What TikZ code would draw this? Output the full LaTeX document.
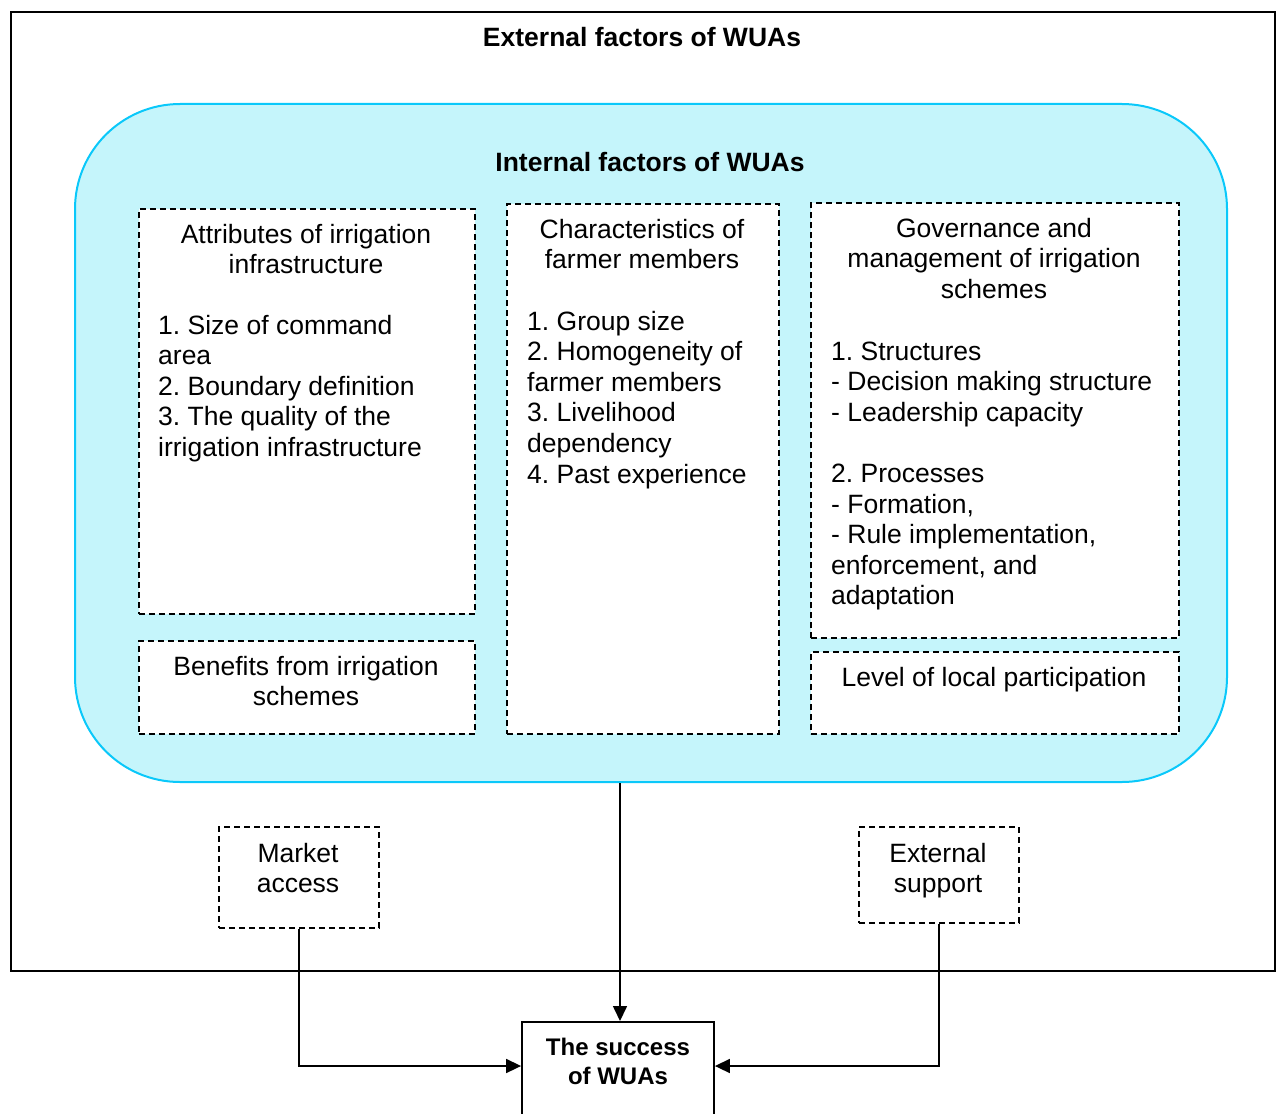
\documentclass[tikz,border=0pt]{standalone}
\usepackage{fontspec}
\setmainfont{Liberation Sans}
\usetikzlibrary{arrows.meta}
\definecolor{infill}{RGB}{197,245,251}
\definecolor{inborder}{RGB}{10,200,250}
\frenchspacing
\begin{document}
\begin{tikzpicture}[x=1pt,y=-1pt,
  txt/.style={inner sep=0pt,font=\fontsize{26.5}{30.6}\selectfont},
  btxt/.style={inner sep=0pt,font=\fontsize{26.5}{29}\selectfont\bfseries},
  dbox/.style={draw,fill=white,line width=1.8pt,dash pattern=on 6pt off 4pt,inner sep=0pt},
  conn/.style={line width=1.6pt,-{Triangle[length=15pt,width=14pt]}}]
\useasboundingbox (0,0) rectangle (1281,1113);
% outer frame: external factors
\node[draw,line width=1.8pt,minimum width=1264,minimum height=959,anchor=north west,inner sep=0pt] (outer) at (10,11) {};
\node[btxt,anchor=base] (exttitle) at (642,47) {External factors of WUAs};
% inner rounded frame: internal factors
\node[draw=inborder,fill=infill,line width=2pt,rounded corners=105pt,minimum width=1152,minimum height=678,anchor=north west,inner sep=0pt] (internal) at (74,103) {};
\node[btxt,anchor=base] (inttitle) at (650,171) {Internal factors of WUAs};
% dashed factor boxes
\node[dbox,minimum width=336,minimum height=405,anchor=north west] (attr) at (138,208) {};
\node[dbox,minimum width=336,minimum height=93,anchor=north west] (benef) at (138,640) {};
\node[dbox,minimum width=272,minimum height=530,anchor=north west] (farm) at (506,203) {};
\node[dbox,minimum width=368,minimum height=435,anchor=north west] (gov) at (810,202) {};
\node[dbox,minimum width=368,minimum height=82,anchor=north west] (part) at (810,651) {};
% box texts (base anchor = baseline of the last line)
\node[txt,align=center,anchor=base] (attrt) at (306,273.6) {Attributes of irrigation\\infrastructure};
\node[txt,align=left,anchor=base west] (attrl) at (158,456.4) {1. Size of command\\area\\2. Boundary definition\\3. The quality of the\\irrigation infrastructure};
\node[txt,align=center,anchor=base] (benft) at (306,705.6) {Benefits from irrigation\\schemes};
\node[txt,align=center,anchor=base] (farmt) at (642,268.6) {Characteristics of\\farmer members};
\node[txt,align=left,anchor=base west] (farml) at (527,483) {1. Group size\\2. Homogeneity of\\farmer members\\3. Livelihood\\dependency\\4. Past experience};
\node[txt,align=center,anchor=base] (govt) at (994,298.2) {Governance and\\management of irrigation\\schemes};
\node[txt,align=left,anchor=base west] (govl) at (831,604.8) {1. Structures\\- Decision making structure\\- Leadership capacity\\[30.6pt]2. Processes\\- Formation,\\- Rule implementation,\\enforcement, and\\adaptation};
\node[txt,align=center,anchor=base] (partt) at (994,686) {Level of local participation};
% external factor boxes
\node[dbox,minimum width=160,minimum height=101,anchor=north west] (market) at (218,826) {};
\node[txt,align=center,anchor=base] (markett) at (298,892.6) {Market\\access};
\node[dbox,minimum width=160,minimum height=96,anchor=north west] (support) at (858,826) {};
\node[txt,align=center,anchor=base] (supportt) at (938,892.6) {External\\support};
% outcome box
\node[draw,fill=white,line width=1.8pt,minimum width=192,minimum height=110,anchor=north,inner sep=0pt] (success) at (618,1021) {};
\node[inner sep=0pt,font=\fontsize{24}{29}\selectfont\bfseries,align=center,anchor=base] (successt) at (618,1084) {The success\\of WUAs};
\coordinate (lvl) at (0,1066);
\coordinate (drop) at (620,0);
% connectors
\draw[conn] (drop |- internal.south) -- (drop |- success.north);
\draw[conn] (market.south) |- (success.west |- lvl);
\draw[conn] (support.south) |- (success.east |- lvl);
\end{tikzpicture}
\end{document}
